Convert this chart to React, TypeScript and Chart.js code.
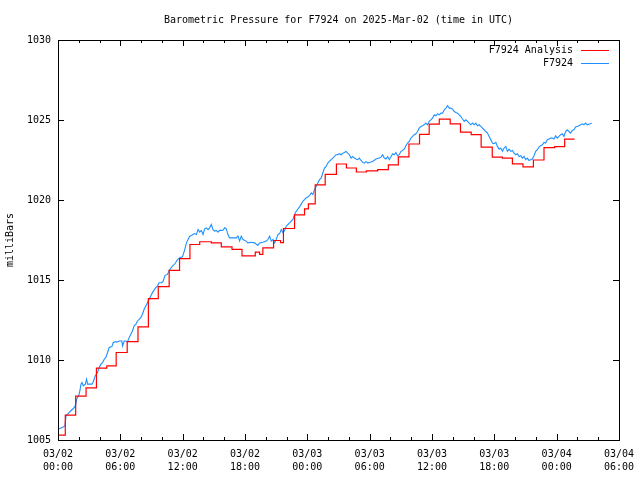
import React, { useEffect, useRef } from "react";
import { Chart, registerables } from "chart.js";

Chart.register(...registerables);

const TITLE = "Barometric Pressure for F7924 on 2025-Mar-02 (time in UTC)";
const Y_LABEL = "milliBars";
const SERIES_NAMES = ["F7924 Analysis", "F7924"];

const TICK_DATES = ["03/02", "03/02", "03/02", "03/02", "03/03", "03/03", "03/03", "03/03", "03/04", "03/04"];
const TICK_TIMES = ["00:00", "06:00", "12:00", "18:00", "00:00", "06:00", "12:00", "18:00", "00:00", "06:00"];

// hours since 2025-03-02 00:00 UTC
const analysisHours = [
  0, 0.7, 1.7, 2.7, 3.7, 4.7, 5.6, 6.66, 7.7, 8.7, 9.65, 10.7, 11.7, 12.7, 13.64, 14.76, 15.72, 16.75,
  17.71, 18.99, 19.4, 19.72, 20.75, 21.42, 21.7, 22.77, 23.73, 24.1, 24.76, 25.72, 26.8, 27.76, 28.72,
  29.68, 30.77, 31.8, 32.76, 33.78, 34.8, 35.73, 36.7, 37.75, 38.74, 39.77, 40.73, 41.8, 42.78, 43.74,
  44.76, 45.76, 46.78, 47.81, 48.77, 49.72,
];
const analysisValues = [
  1005.31, 1006.56, 1007.74, 1008.26, 1009.49, 1009.63, 1010.47, 1011.15, 1012.07, 1013.83, 1014.58,
  1015.6, 1016.34, 1017.22, 1017.39, 1017.32, 1017.07, 1016.91, 1016.51, 1016.74, 1016.6, 1017.01,
  1017.47, 1017.34, 1018.22, 1019.07, 1019.45, 1019.76, 1020.95, 1021.6, 1022.25, 1022.0, 1021.75,
  1021.82, 1021.9, 1022.2, 1022.7, 1023.5, 1024.1, 1024.74, 1025.06, 1024.76, 1024.24, 1024.08,
  1023.3, 1022.68, 1022.62, 1022.26, 1022.07, 1022.5, 1023.27, 1023.33, 1023.81, 1023.81,
];

const stationHours = [
  0.06, 0.45, 0.67, 0.77, 0.93, 1.09, 1.34, 1.57, 1.73, 1.79, 1.99, 2.11, 2.21, 2.31, 2.43, 2.63, 2.75,
  2.85, 3.01, 3.27, 3.39, 3.59, 3.81, 3.97, 4.13, 4.29, 4.45, 4.61, 4.77, 4.93, 5.19, 5.32, 5.51, 5.73,
  5.89, 6.15, 6.21, 6.37, 6.53, 6.69, 6.85, 7.01, 7.17, 7.33, 7.49, 7.65, 7.81, 7.97, 8.13, 8.29, 8.45,
  8.61, 8.77, 8.93, 9.09, 9.25, 9.41, 9.57, 9.73, 9.99, 10.12, 10.31, 10.53, 10.76, 11.02, 11.27, 11.5,
  11.72, 11.98, 12.2, 12.36, 12.52, 12.68, 12.84, 13.0, 13.16, 13.32, 13.48, 13.64, 13.8, 13.96, 14.12,
  14.28, 14.44, 14.6, 14.76, 14.92, 15.08, 15.24, 15.4, 15.56, 15.72, 15.88, 16.04, 16.2, 16.36, 16.52,
  16.84, 17.16, 17.32, 17.48, 17.64, 17.8, 18.12, 18.28, 18.6, 18.92, 19.24, 19.4, 19.72, 20.05, 20.2,
  20.37, 20.53, 20.69, 20.85, 21.0, 21.17, 21.33, 21.49, 21.65, 21.81, 21.97, 22.13, 22.29, 22.45, 22.61,
  22.77, 22.93, 23.25, 23.57, 23.89, 24.21, 24.37, 24.53, 24.69, 24.85, 25.01, 25.17, 25.33, 25.49,
  25.65, 25.81, 25.97, 26.13, 26.29, 26.45, 26.61, 26.77, 26.93, 27.09, 27.25, 27.41, 27.57, 27.73,
  27.89, 28.05, 28.21, 28.37, 28.53, 28.69, 28.85, 29.01, 29.17, 29.33, 29.49, 29.65, 29.81, 29.97,
  30.29, 30.61, 30.93, 31.09, 31.25, 31.41, 31.57, 31.73, 31.89, 32.21, 32.37, 32.53, 32.69, 32.85,
  33.01, 33.17, 33.33, 33.49, 33.65, 33.81, 33.97, 34.13, 34.29, 34.45, 34.61, 34.77, 34.93, 35.09,
  35.25, 35.41, 35.57, 35.73, 35.89, 36.05, 36.22, 36.38, 36.53, 36.7, 36.86, 37.02, 37.18, 37.34,
  37.5, 37.66, 37.82, 37.98, 38.14, 38.3, 38.46, 38.62, 38.78, 38.94, 39.1, 39.26, 39.42, 39.58, 39.74,
  39.9, 40.06, 40.22, 40.38, 40.54, 40.7, 40.86, 41.02, 41.18, 41.34, 41.5, 41.66, 41.82, 41.98, 42.14,
  42.3, 42.46, 42.62, 42.78, 42.94, 43.1, 43.26, 43.42, 43.58, 43.74, 43.9, 44.06, 44.22, 44.38, 44.54,
  44.7, 44.86, 45.02, 45.18, 45.34, 45.5, 45.66, 45.82, 45.98, 46.14, 46.3, 46.46, 46.62, 46.78, 46.94,
  47.1, 47.26, 47.42, 47.58, 47.74, 47.9, 48.06, 48.22, 48.38, 48.54, 48.7, 48.86, 49.02, 49.18, 49.34,
  49.5, 49.66, 49.82, 49.98, 50.14, 50.3, 50.46, 50.62, 50.78, 50.94, 51.1, 51.26, 51.36,
];
const stationValues = [
  1005.69, 1005.79, 1005.89, 1006.52, 1006.62, 1006.73, 1006.89, 1007.04, 1007.24, 1007.56, 1007.76,
  1008.08, 1008.49, 1008.6, 1008.39, 1008.49, 1008.8, 1008.49, 1008.49, 1008.49, 1008.64, 1009.02,
  1009.23, 1009.53, 1009.74, 1009.84, 1010.05, 1010.16, 1010.47, 1010.78, 1010.84, 1011.09, 1011.13,
  1011.13, 1011.19, 1011.19, 1010.88, 1011.19, 1011.19, 1011.13, 1011.4, 1011.61, 1011.81, 1012.13,
  1012.23, 1012.44, 1012.54, 1012.65, 1012.86, 1013.17, 1013.37, 1013.58, 1013.79, 1014.0, 1014.21,
  1014.37, 1014.52, 1014.62, 1014.83, 1014.83, 1014.93, 1015.29, 1015.35, 1015.66, 1015.87, 1016.03,
  1016.28, 1016.39, 1016.45, 1016.9, 1017.32, 1017.53, 1017.74, 1017.78, 1017.84, 1017.9, 1017.84,
  1018.15, 1017.99, 1018.1, 1017.84, 1018.2, 1018.26, 1018.15, 1018.26, 1018.47, 1018.15, 1018.05,
  1018.1, 1017.99, 1018.1, 1018.1, 1018.11, 1018.26, 1018.2, 1017.84, 1017.63, 1017.63, 1017.63,
  1017.74, 1017.43, 1017.74, 1017.53, 1017.43, 1017.32, 1017.36, 1017.32, 1017.16, 1017.32, 1017.36,
  1017.43, 1017.53, 1017.74, 1017.43, 1017.53, 1017.32, 1017.53, 1017.84, 1017.9, 1018.15, 1017.95,
  1018.1, 1018.36, 1018.47, 1018.57, 1018.68, 1018.78, 1019.09, 1019.3, 1019.57, 1019.92, 1020.13,
  1020.27, 1020.44, 1020.34, 1020.65, 1020.85, 1021.06, 1021.27, 1021.37, 1021.69, 1022.0, 1022.1,
  1022.31, 1022.41, 1022.52, 1022.62, 1022.72, 1022.83, 1022.83, 1022.89, 1022.83, 1022.93, 1022.97,
  1023.04, 1022.93, 1022.83, 1022.62, 1022.72, 1022.62, 1022.56, 1022.52, 1022.62, 1022.47, 1022.35,
  1022.31, 1022.41, 1022.31, 1022.35, 1022.41, 1022.56, 1022.62, 1022.68, 1022.83, 1022.62, 1022.56,
  1022.72, 1022.52, 1022.89, 1022.83, 1022.97, 1022.77, 1022.83, 1023.04, 1023.1, 1023.18, 1023.39,
  1023.56, 1023.66, 1023.87, 1023.97, 1024.08, 1024.14, 1024.28, 1024.49, 1024.6, 1024.64, 1024.7,
  1024.81, 1024.7, 1024.91, 1025.01, 1025.12, 1025.32, 1025.26, 1025.39, 1025.32, 1025.43, 1025.43,
  1025.64, 1025.74, 1025.89, 1025.74, 1025.74, 1025.68, 1025.53, 1025.47, 1025.43, 1025.32, 1025.22,
  1025.06, 1024.91, 1025.01, 1024.91, 1024.81, 1024.7, 1024.81, 1024.7, 1024.81, 1024.64, 1024.7,
  1024.6, 1024.49, 1024.39, 1024.28, 1024.18, 1023.97, 1023.77, 1023.56, 1023.52, 1023.6, 1023.35,
  1023.18, 1023.25, 1023.04, 1023.25, 1023.35, 1023.04, 1023.18, 1023.04, 1023.1, 1022.93, 1022.83,
  1022.89, 1022.72, 1022.77, 1022.62, 1022.72, 1022.52, 1022.62, 1022.47, 1022.52, 1022.56, 1022.77,
  1023.04, 1023.14, 1023.31, 1023.39, 1023.45, 1023.6, 1023.56, 1023.77, 1023.81, 1023.87, 1023.87,
  1023.81, 1024.01, 1023.87, 1023.97, 1024.08, 1024.14, 1023.97, 1024.28, 1024.39, 1024.28, 1024.18,
  1024.35, 1024.39, 1024.56, 1024.6, 1024.64, 1024.7, 1024.76, 1024.7, 1024.81, 1024.7, 1024.74,
  1024.76, 1024.81,
];

const FONT_FAMILY = '"DejaVu Sans Mono", "Liberation Mono", monospace';
const RED = "#ff0000";
const BLUE = "#1e90ff";

const framePlugin = {
  id: "gnuplotFrame",
  afterDatasetsDraw(chart: any) {
    const { ctx, chartArea, scales } = chart;
    const xs = scales.x;
    const ys = scales.y;
    const { left, right, top, bottom } = chartArea;
    ctx.save();
    ctx.strokeStyle = "#000";
    ctx.lineWidth = 1;
    ctx.beginPath();
    for (let h = 0; h <= 54; h += 2) {
      const px = Math.round(xs.getPixelForValue(h)) + 0.5;
      const len = h % 6 === 0 ? 6 : 3;
      ctx.moveTo(px, bottom);
      ctx.lineTo(px, bottom - len);
      ctx.moveTo(px, top);
      ctx.lineTo(px, top + len);
    }
    for (let v = 1005; v <= 1030; v += 5) {
      const py = Math.round(ys.getPixelForValue(v)) + 0.5;
      ctx.moveTo(left, py);
      ctx.lineTo(left + 6, py);
      ctx.moveTo(right, py);
      ctx.lineTo(right - 6, py);
    }
    ctx.stroke();
    ctx.strokeRect(left + 0.5, top + 0.5, right - left, bottom - top);

    // legend
    ctx.font = "10px " + FONT_FAMILY;
    ctx.fillStyle = "#000";
    ctx.textAlign = "right";
    ctx.textBaseline = "middle";
    chart.data.datasets.forEach((ds: any, i: number) => {
      const yy = top + 9.5 + i * 13;
      ctx.fillText(ds.label, right - 46, yy + 0.5);
      ctx.strokeStyle = ds.borderColor;
      ctx.beginPath();
      ctx.moveTo(right - 38, Math.round(yy) + 0.5);
      ctx.lineTo(right - 10, Math.round(yy) + 0.5);
      ctx.stroke();
    });
    ctx.restore();
  },
};

export default function App() {
  const canvasRef = useRef<HTMLCanvasElement | null>(null);

  useEffect(() => {
    document.body.style.margin = "0";
    const canvas = canvasRef.current;
    if (!canvas) return;
    const analysisData = analysisHours.map((h, i) => ({ x: h, y: analysisValues[i] }));
    const stationData = stationHours.map((h, i) => ({ x: h, y: stationValues[i] }));

    const chart = new Chart(canvas, {
      type: "line",
      data: {
        datasets: [
          {
            label: SERIES_NAMES[0],
            data: analysisData,
            borderColor: RED,
            backgroundColor: RED,
            borderWidth: 1.2,
            pointRadius: 0,
            stepped: "before",
            fill: false,
          },
          {
            label: SERIES_NAMES[1],
            data: stationData,
            borderColor: BLUE,
            backgroundColor: BLUE,
            borderWidth: 1.1,
            pointRadius: 0,
            tension: 0,
            fill: false,
          },
        ],
      },
      options: {
        animation: false,
        responsive: false,
        maintainAspectRatio: false,
        events: [],
        layout: { padding: { left: 0, right: 21, top: 0, bottom: 0 } },
        plugins: {
          legend: { display: false },
          tooltip: { enabled: false },
          title: {
            display: true,
            fullSize: false,
            text: TITLE,
            color: "#000",
            font: { family: FONT_FAMILY, size: 10, weight: "normal", lineHeight: 1.2 },
            padding: { top: 14, bottom: 14 },
          },
        },
        scales: {
          x: {
            type: "linear",
            min: 0,
            max: 54,
            grid: { display: false, drawTicks: false, tickLength: 0 },
            border: { display: false },
            ticks: {
              stepSize: 2,
              autoSkip: false,
              maxRotation: 0,
              minRotation: 0,
              padding: 7.5,
              color: "#000",
              font: { family: FONT_FAMILY, size: 10, lineHeight: 1.3 },
              callback: (value: any) => {
                const v = Number(value);
                if (v % 6 !== 0) return "";
                const idx = v / 6;
                return [TICK_DATES[idx], TICK_TIMES[idx]];
              },
            },
            afterFit: (scale: any) => {
              scale.height = 40;
              scale.paddingLeft = 0;
              scale.paddingRight = 0;
            },
          },
          y: {
            type: "linear",
            min: 1005,
            max: 1030,
            grid: { display: false, drawTicks: false, tickLength: 0 },
            border: { display: false },
            title: {
              display: true,
              text: Y_LABEL,
              color: "#000",
              font: { family: FONT_FAMILY, size: 10, lineHeight: 1.2 },
              padding: { top: 4, bottom: 4 },
            },
            ticks: {
              stepSize: 5,
              autoSkip: false,
              padding: 7,
              color: "#000",
              font: { family: FONT_FAMILY, size: 10 },
              callback: (value: any) => String(value),
            },
            afterFit: (scale: any) => {
              scale.width = 58;
              scale.paddingTop = 0;
              scale.paddingBottom = 0;
            },
          },
        },
      },
      plugins: [framePlugin],
    });
    return () => chart.destroy();
  }, []);

  return (
    <div style={{ width: 640, height: 480, background: "#fff" }}>
      <canvas ref={canvasRef} width={640} height={480} style={{ display: "block" }} />
    </div>
  );
}
